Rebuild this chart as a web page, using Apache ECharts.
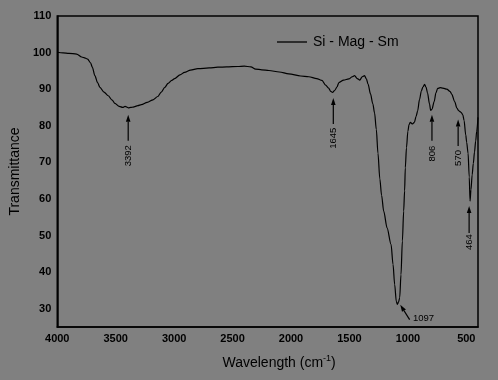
<!DOCTYPE html>
<html>
<head>
<meta charset="utf-8">
<script src="https://cdn.jsdelivr.net/npm/echarts@6/dist/echarts.min.js"></script>
<style>
html,body{margin:0;padding:0;background:#808080;}
#chart{width:498px;height:380px;}
</style>
</head>
<body>
<div id="chart"></div>
<script>
// Spectrum data (wavenumber cm^-1, transmittance %)
var wavenumbers = [4000,3950,3900,3834,3791,3760,3740,3715,3700,3678,3655,3635,3600,3564,3530,3507,3470,3440,3420,3392,3370,3351,3310,3280,3230,3180,3140,3110,3080,3052,3020,2996,2950,2911,2860,2797,2700,2626,2550,2456,2400,2343,2303,2250,2189,2100,2019,1917,1848,1780,1735,1704,1678,1660,1645,1625,1607,1590,1550,1505,1476,1456,1433,1411,1391,1371,1355,1340,1320,1300,1285,1270,1256,1240,1225,1207,1178,1144,1127,1113,1099,1090,1080,1070,1059,1047,1036,1028,1022,1012,1000,990,979,960,945,930,917,900,885,871,857,845,832,815,805,794,775,760,745,724,700,667,640,624,600,580,565,545,530,519,505,497,485,475,468,460,450,440,430,420,411,400];
var transmittance = [100.1,99.9,99.8,99.6,98.8,98.5,98.2,97.2,96.0,93.7,91.8,90.5,89.2,88.2,87.0,86.1,85.3,85.0,85.3,84.9,85.0,85.1,85.5,85.8,86.4,87.1,88.0,89.2,90.5,91.6,92.4,92.9,93.9,94.6,95.2,95.6,95.8,96.0,96.1,96.2,96.3,96.1,95.5,95.3,95.1,94.7,94.2,93.6,93.4,92.9,92.4,91.1,90.3,89.4,89.1,89.7,90.6,91.8,92.5,92.8,93.4,93.7,92.9,92.5,93.4,93.7,92.8,91.3,88.7,86.0,83.5,79.0,72.5,65.5,61.0,56.7,52.1,47.6,42.1,36.6,32.0,31.2,31.8,33.0,39.3,48.5,56.7,62.2,68.5,74.0,78.5,80.3,80.9,80.5,80.9,82.5,84.0,87.2,89.5,90.6,91.3,90.6,89.0,86.0,84.2,84.5,86.6,89.0,90.2,90.4,90.3,90.0,89.4,88.6,86.6,84.8,84.1,83.7,83.0,81.4,77.5,75.5,72.5,66.0,59.4,62.5,66.6,69.7,72.8,75.8,78.5,82.3];
var seriesName = 'Si - Mag - Sm';

// Peak annotations (data units)
var annotLabels = ['3392','1645','806','570','464','1097'];
var annotTipX   = [3393,1638,794,570,476,1065];
var annotTipY   = [83.0,87.6,83.0,81.7,58.1,31.1];
var annotTailX  = [3393,1638,794,570,476,985];
var annotTailY  = [75.9,80.5,75.9,74.5,50.7,27.0];
var annotTextX  = [3393,1638,794,570,476,956];
var annotTextY  = [71.8,76.6,72.4,71.2,48.2,27.4];
var annotVertical = [1,1,1,1,1,0];

var xTickStep = 500;
var yTickStep = 10;

var FONT = "'Liberation Sans', Arial, sans-serif";
var lineData = wavenumbers.map(function(w,i){ return [w, transmittance[i]]; });
var annotData = annotLabels.map(function(l,i){
  return [annotTipX[i], annotTipY[i], annotTailX[i], annotTailY[i], annotTextX[i], annotTextY[i], annotVertical[i]];
});

var chart = echarts.init(document.getElementById('chart'), null, {renderer:'canvas'});
chart.setOption({
  backgroundColor: '#808080',
  animation: false,
  legend: {
    data: [seriesName],
    left: 272, top: 30,
    icon: 'rect', itemWidth: 30, itemHeight: 1.3, itemGap: 10,
    textStyle: {color:'#000', fontSize:14, fontFamily: FONT, padding:[0,0,0,1]}
  },
  grid: {
    left: 55, right: 20, top: 16, bottom: 53,
    show: true, borderColor: '#000', borderWidth: 1.5, backgroundColor: 'transparent'
  },
  xAxis: {
    type: 'value', min: 400, max: 4000, interval: 100, inverse: true,
    name: '{a|Wavelength (cm}{s|-1}{a|)}',
    nameLocation: 'middle', nameGap: 27,
    nameTextStyle: {
      padding: [0,0,0,23],
      rich: {
        a: {fontSize: 14, fontFamily: FONT, color:'#000', lineHeight: 16, verticalAlign:'bottom'},
        s: {fontSize: 9, fontFamily: FONT, color:'#000', lineHeight: 16, verticalAlign:'top', padding:[0,0,6,0]}
      }
    },
    axisLine: {show: true, lineStyle: {color:'#000', width: 1.5}},
    axisTick: {show: false},
    splitLine: {show: false},
    axisLabel: {
      color:'#000', fontSize: 11, fontWeight:'bold', fontFamily: FONT, margin: 6,
      formatter: function(v){ return (v % xTickStep === 0) ? String(v) : ''; }
    }
  },
  yAxis: {
    type: 'value', min: 25, max: 110, interval: 5,
    name: 'Transmittance', nameLocation: 'middle', nameGap: 32,
    nameTextStyle: {fontSize: 14, fontFamily: FONT, color:'#000'},
    axisLine: {show: true, lineStyle: {color:'#000', width: 1.5}},
    axisTick: {show: false},
    splitLine: {show: false},
    axisLabel: {
      color:'#000', fontSize: 11, fontWeight:'bold', fontFamily: FONT, margin: 6,
      formatter: function(v){ return (v % yTickStep === 0) ? String(v) : ''; }
    }
  },
  series: [
    {
      name: seriesName, type: 'line', data: lineData,
      showSymbol: false, smooth: 0.3, smoothMonotone: 'x',
      lineStyle: {color:'#000', width: 1.2},
      itemStyle: {color:'#000'}
    },
    {
      type: 'custom', data: annotData, silent: true,
      renderItem: function(params, api){
        var tip = api.coord([api.value(0), api.value(1)]);
        var tail = api.coord([api.value(2), api.value(3)]);
        var tp = api.coord([api.value(4), api.value(5)]);
        var vertical = api.value(6) === 1;
        var dx = tip[0]-tail[0], dy = tip[1]-tail[1];
        var len = Math.sqrt(dx*dx+dy*dy); var ux = dx/len, uy = dy/len;
        var hl = 7, hw = 2.3;
        var bx = tip[0]-ux*hl, by = tip[1]-uy*hl;
        var px = -uy, py = ux;
        var children = [
          {type:'line', shape:{x1:tail[0], y1:tail[1], x2:bx, y2:by}, style:{stroke:'#000', lineWidth:1.2}},
          {type:'polygon', shape:{points:[[tip[0],tip[1]],[bx+px*hw,by+py*hw],[bx-px*hw,by-py*hw]]}, style:{fill:'#000'}}
        ];
        if (vertical) {
          children.push({type:'text', x: tp[0], y: tp[1], rotation: Math.PI/2,
            style:{text: annotLabels[params.dataIndex], fill:'#000', fontSize: 9.5, fontFamily: FONT, align:'center', verticalAlign:'middle'}});
        } else {
          children.push({type:'text', x: tp[0], y: tp[1],
            style:{text: annotLabels[params.dataIndex], fill:'#000', fontSize: 9.5, fontFamily: FONT, align:'left', verticalAlign:'middle'}});
        }
        return {type:'group', children: children};
      }
    }
  ]
});
</script>
</body>
</html>
